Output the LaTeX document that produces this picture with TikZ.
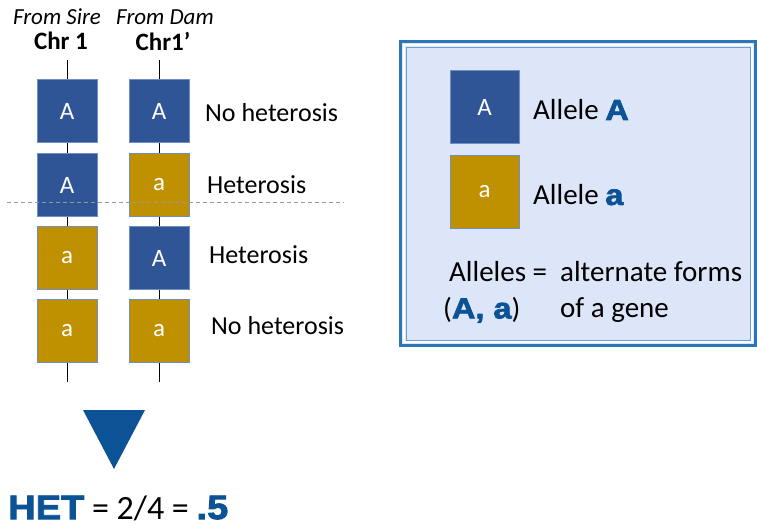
\documentclass[tikz,border=0pt]{standalone}
\usepackage{fontspec}
\setmainfont{Carlito}
\newfontfamily\heavyfont[FakeBold=2.5,FakeStretch=1.12]{Liberation Sans Bold}
\usetikzlibrary{shapes.geometric}
\definecolor{bigA}{HTML}{2F5597}
\definecolor{smalla}{HTML}{BF9000}
\definecolor{boxedge}{HTML}{6E8FC6}
\definecolor{deepblue}{HTML}{0B5394}
\definecolor{legendfill}{HTML}{DCE6F8}
\definecolor{legendedge}{HTML}{2E75B6}
\tikzset{
  allele/.style={draw=boxedge, line width=0.8pt, minimum width=60pt, minimum height=63pt, inner sep=0pt, text=white, font=\fontsize{25}{25}\selectfont},
  upper/.style={allele, fill=bigA},
  lower/.style={allele, fill=smalla},
  legbox/.style={allele, minimum width=69pt, minimum height=73pt},
  lab/.style={anchor=west, font=\fontsize{26}{30}\selectfont, inner sep=0pt},
  leg/.style={anchor=west, font=\fontsize{29}{34}\selectfont, inner sep=0pt},
  chrline/.style={line width=0.9pt, black},
}
\newcommand{\heavy}[1]{{\heavyfont\color{deepblue}#1}}
\begin{document}
\begin{tikzpicture}[x=1pt, y=-1pt]
\useasboundingbox (0,0) rectangle (757,529);
% headers
\node (sire) at (57,17) {\fontsize{23}{23}\selectfont\itshape From Sire};
\node (dam) at (165,17) {\fontsize{23}{23}\selectfont\itshape From Dam};
\node (chr1) at (61,41) {\fontsize{25}{25}\selectfont\bfseries Chr 1};
\node (chr2) at (163,41) {\fontsize{25}{25}\selectfont\bfseries Chr1’};
% chromosome lines
\coordinate (l1top) at (67,60);
\coordinate (l1bot) at (67,382);
\coordinate (l2top) at (159,60);
\coordinate (l2bot) at (159,382);
\draw[chrline] (l1top) -- (l1bot);
\draw[chrline] (l2top) -- (l2bot);
% boxes
\node[upper] (a1) at (67,111) {A};
\node[upper] (b1) at (159,111) {A};
\node[upper] (a2) at (67,185) {A};
\node[lower] (b2) at (159,185) {a};
\node[lower] (a3) at (67,258) {a};
\node[upper] (b3) at (159,258) {A};
\node[lower] (a4) at (67,331) {a};
\node[lower] (b4) at (159,331) {a};
% labels
\node[lab] (t1) at (205,113) {No heterosis};
\node[lab] (t2) at (207,185) {Heterosis};
\node[lab] (t3) at (209,255) {Heterosis};
\node[lab] (t4) at (211,326) {No heterosis};
% dashed line
\coordinate (d1) at (7,202);
\coordinate (d2) at (344,202);
\draw[dashed, gray!80, line width=0.8pt, dash pattern=on 4pt off 3pt] (d1) -- (d2);
% triangle
\draw[fill=deepblue, draw=none] (83,410) -- (145,410) -- (114,469) -- cycle;
% HET
\node[anchor=west, inner sep=0pt] (het) at (8,508) {\fontsize{34}{38}\selectfont\heavy{\fontsize{34}{34}\selectfont HET} = 2/4 = \heavy{\fontsize{34}{34}\selectfont .5}};
% legend
\node[draw=legendedge, line width=3pt, fill=legendfill, minimum width=355pt, minimum height=304pt, inner sep=0pt] (legend) at (578,193.5) {};
\draw[white, line width=2pt] (404,45) rectangle (752,342);
\draw[legendedge!70, line width=0.6pt] (406,47) rectangle (750,340);
\node[legbox, fill=bigA] (la) at (484.5,107) {A};
\node[legbox, fill=smalla] (lb) at (484.5,192) {a};
\node[leg] (ta) at (533,110) {Allele \heavy{A}};
\node[leg] (tb) at (533,195) {Allele \heavy{a}};
\node[leg] (al) at (449,272) {Alleles =};
\node[leg] (aa) at (443,310) {(\heavy{A, a})};
\node[leg] (f1) at (560,272) {alternate forms};
\node[leg] (f2) at (560,310) {of a gene};
\end{tikzpicture}
\end{document}
